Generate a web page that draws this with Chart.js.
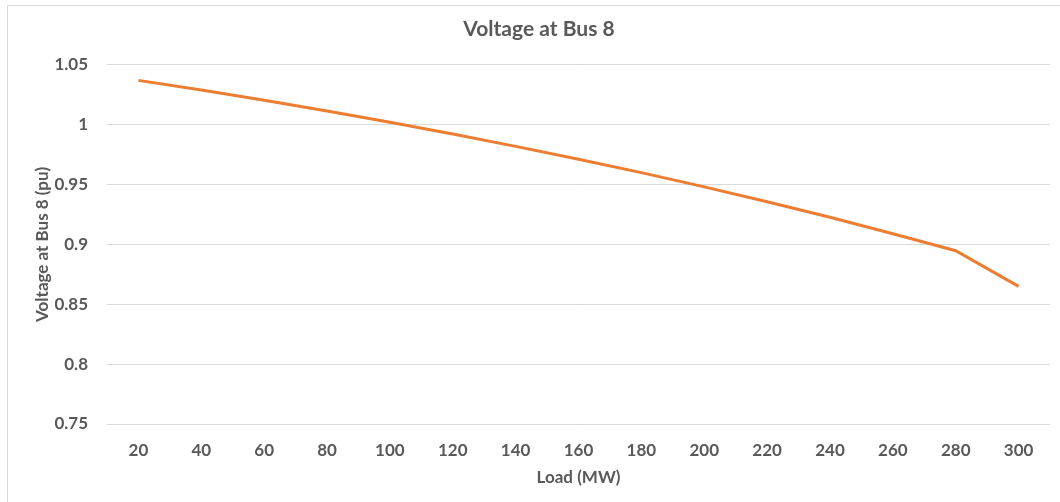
<!DOCTYPE html>
<html>
<head>
<meta charset="utf-8">
<title>Voltage at Bus 8</title>
<script src="https://cdn.jsdelivr.net/npm/chart.js@4"></script>
<style>
  html, body { margin: 0; padding: 0; background: #ffffff; overflow: hidden; }
  #wrap { position: relative; width: 1060px; height: 502px; }
  #frame { position: absolute; left: 7px; top: 5px; width: 1100px; height: 600px;
           border-left: 1px solid #d9d9d9; border-top: 1px solid #d9d9d9; }
  canvas { position: absolute; left: 0; top: 0; }
</style>
</head>
<body>
<div id="wrap">
  <div id="frame"></div>
  <canvas id="chart"></canvas>
</div>
<script>
// Load steps (MW) and the resulting voltage magnitude at bus 8 (pu)
const loadMW = [20, 40, 60, 80, 100, 120, 140, 160, 180, 200, 220, 240, 260, 280, 300];
const voltagePu = [1.0369, 1.0289, 1.0204, 1.0114, 1.0020, 0.9921, 0.9818, 0.9711,
                   0.9599, 0.9480, 0.9356, 0.9226, 0.9089, 0.8947, 0.8649];
const yTicks = [0.75, 0.8, 0.85, 0.9, 0.95, 1, 1.05];

const textColor = '#595959';
const gridColor = '#d9d9d9';
const fontFamily = 'Lato, "Open Sans", sans-serif';

new Chart(document.getElementById('chart'), {
  type: 'line',
  data: {
    labels: loadMW.map(String),
    datasets: [{
      label: 'Voltage at Bus 8',
      data: voltagePu,
      borderColor: '#ed7d31',
      backgroundColor: '#ed7d31',
      borderWidth: 3,
      pointRadius: 0,
      tension: 0,
      fill: false
    }]
  },
  options: {
    responsive: true,
    maintainAspectRatio: false,
    animation: false,
    layout: { padding: { left: 28, right: 10, top: 0, bottom: 10 } },
    plugins: {
      legend: { display: false },
      tooltip: { enabled: false },
      title: {
        display: true,
        text: 'Voltage at Bus 8',
        color: textColor,
        font: { family: fontFamily, size: 21, weight: 'bold' },
        padding: { top: 17, bottom: 22.5 }
      }
    },
    scales: {
      x: {
        type: 'category',
        offset: true,
        grid: { display: false, drawTicks: false },
        border: { display: false },
        ticks: {
          color: textColor,
          padding: 16,
          maxRotation: 0,
          autoSkip: false,
          font: { family: fontFamily, size: 17, weight: 'bold' }
        },
        title: {
          display: true,
          text: 'Load (MW)',
          color: textColor,
          padding: { top: 4, bottom: 4 },
          font: { family: fontFamily, size: 17, weight: 'bold' }
        },
        afterFit: (scale) => { scale.height = 68; }
      },
      y: {
        min: 0.75,
        max: 1.05,
        grid: { color: gridColor, lineWidth: 1, drawTicks: false },
        border: { display: false },
        afterBuildTicks: (scale) => { scale.ticks = yTicks.map(v => ({ value: v })); },
        ticks: {
          color: textColor,
          padding: 19,
          font: { family: fontFamily, size: 17, weight: 'bold' },
          callback: (v) => String(Math.round(v * 100) / 100)
        },
        title: {
          display: true,
          text: 'Voltage at Bus 8 (pu)',
          color: textColor,
          padding: { top: 4, bottom: 4 },
          font: { family: fontFamily, size: 17, weight: 'bold' }
        },
        afterFit: (scale) => { scale.width = 79; }
      }
    }
  }
});
</script>
</body>
</html>
